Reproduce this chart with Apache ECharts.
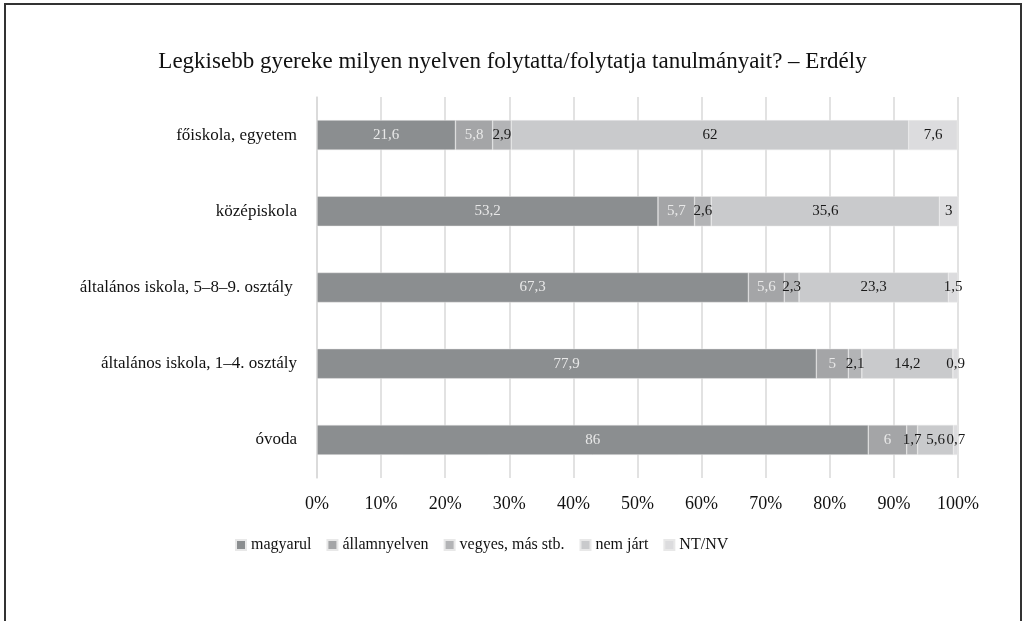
<!DOCTYPE html>
<html>
<head>
<meta charset="utf-8">
<script src="https://cdn.jsdelivr.net/npm/echarts@6/dist/echarts.min.js"></script>
<style>
  html, body { margin: 0; padding: 0; background: #fff; }
  #chart { width: 1025px; height: 621px; }
</style>
</head>
<body>
<div id="chart"></div>
<script>
const categories = [
  'főiskola, egyetem',
  'középiskola',
  'általános iskola, 5–8–9. osztály ',
  'általános iskola, 1–4. osztály',
  'óvoda'
];
const seriesNames = ['magyarul', 'államnyelven', 'vegyes, más stb.', 'nem járt', 'NT/NV'];
const magyarul = [21.6, 53.2, 67.3, 77.9, 86];
const allamnyelven = [5.8, 5.7, 5.6, 5, 6];
const vegyes = [2.9, 2.6, 2.3, 2.1, 1.7];
const nemJart = [62, 35.6, 23.3, 14.2, 5.6];
const ntnv = [7.6, 3, 1.5, 0.9, 0.7];
const xTicks = [0, 10, 20, 30, 40, 50, 60, 70, 80, 90, 100];

const colors = ['#8b8e90', '#a4a5a7', '#b3b4b6', '#c9cacc', '#dcdcde'];
const labelColors = ['#e8e8e8', '#e8e8e8', '#1a1a1a', '#1a1a1a', '#1a1a1a'];
const serif = '"Liberation Serif", "DejaVu Serif", serif';

const allData = [magyarul, allamnyelven, vegyes, nemJart, ntnv];

const chart = echarts.init(document.getElementById('chart'), null, { renderer: 'canvas' });

chart.setOption({
  animation: false,
  textStyle: { fontFamily: serif },
  title: {
    text: 'Legkisebb gyereke milyen nyelven folytatta/folytatja tanulmányait? – Erdély',
    left: 'center',
    top: 45,
    textStyle: { fontFamily: serif, fontSize: 23, fontWeight: 'normal', color: '#111' }
  },
  graphic: [{
    type: 'rect',
    shape: { x: 5, y: 4, width: 1016, height: 700 },
    style: { fill: 'none', stroke: '#333', lineWidth: 2 },
    silent: true
  }],
  legend: {
    data: seriesNames,
    left: 230,
    top: 532,
    icon: 'rect',
    itemWidth: 10,
    itemHeight: 10,
    itemGap: 15,
    textStyle: { fontFamily: serif, fontSize: 16, color: '#111' }
  },
  grid: { left: 317, right: 67, top: 97, bottom: 143 },
  xAxis: {
    type: 'value',
    min: 0,
    max: 100,
    interval: 10,
    axisLine: { show: false },
    axisTick: { show: false },
    splitLine: { lineStyle: { color: '#d9d9d9', width: 1.5 } },
    axisLabel: {
      fontFamily: serif, fontSize: 18, color: '#111', margin: 17,
      formatter: v => xTicks.includes(v) ? v + '%' : ''
    }
  },
  yAxis: {
    type: 'category',
    data: categories,
    inverse: true,
    axisLine: { show: true, lineStyle: { color: '#d9d9d9', width: 1.5 } },
    axisTick: { show: false },
    axisLabel: { fontFamily: serif, fontSize: 17, color: '#111', margin: 20 }
  },
  series: seriesNames.map((name, i) => ({
    name: name,
    type: 'bar',
    stack: 'total',
    barWidth: 30,
    data: allData[i],
    itemStyle: { color: colors[i], borderColor: '#e8e8e8', borderWidth: 0.5 },
    label: {
      show: true,
      position: 'inside',
      fontFamily: serif,
      fontSize: 15,
      color: labelColors[i],
      formatter: p => String(p.value).replace('.', ',')
    }
  }))
});
</script>
</body>
</html>
